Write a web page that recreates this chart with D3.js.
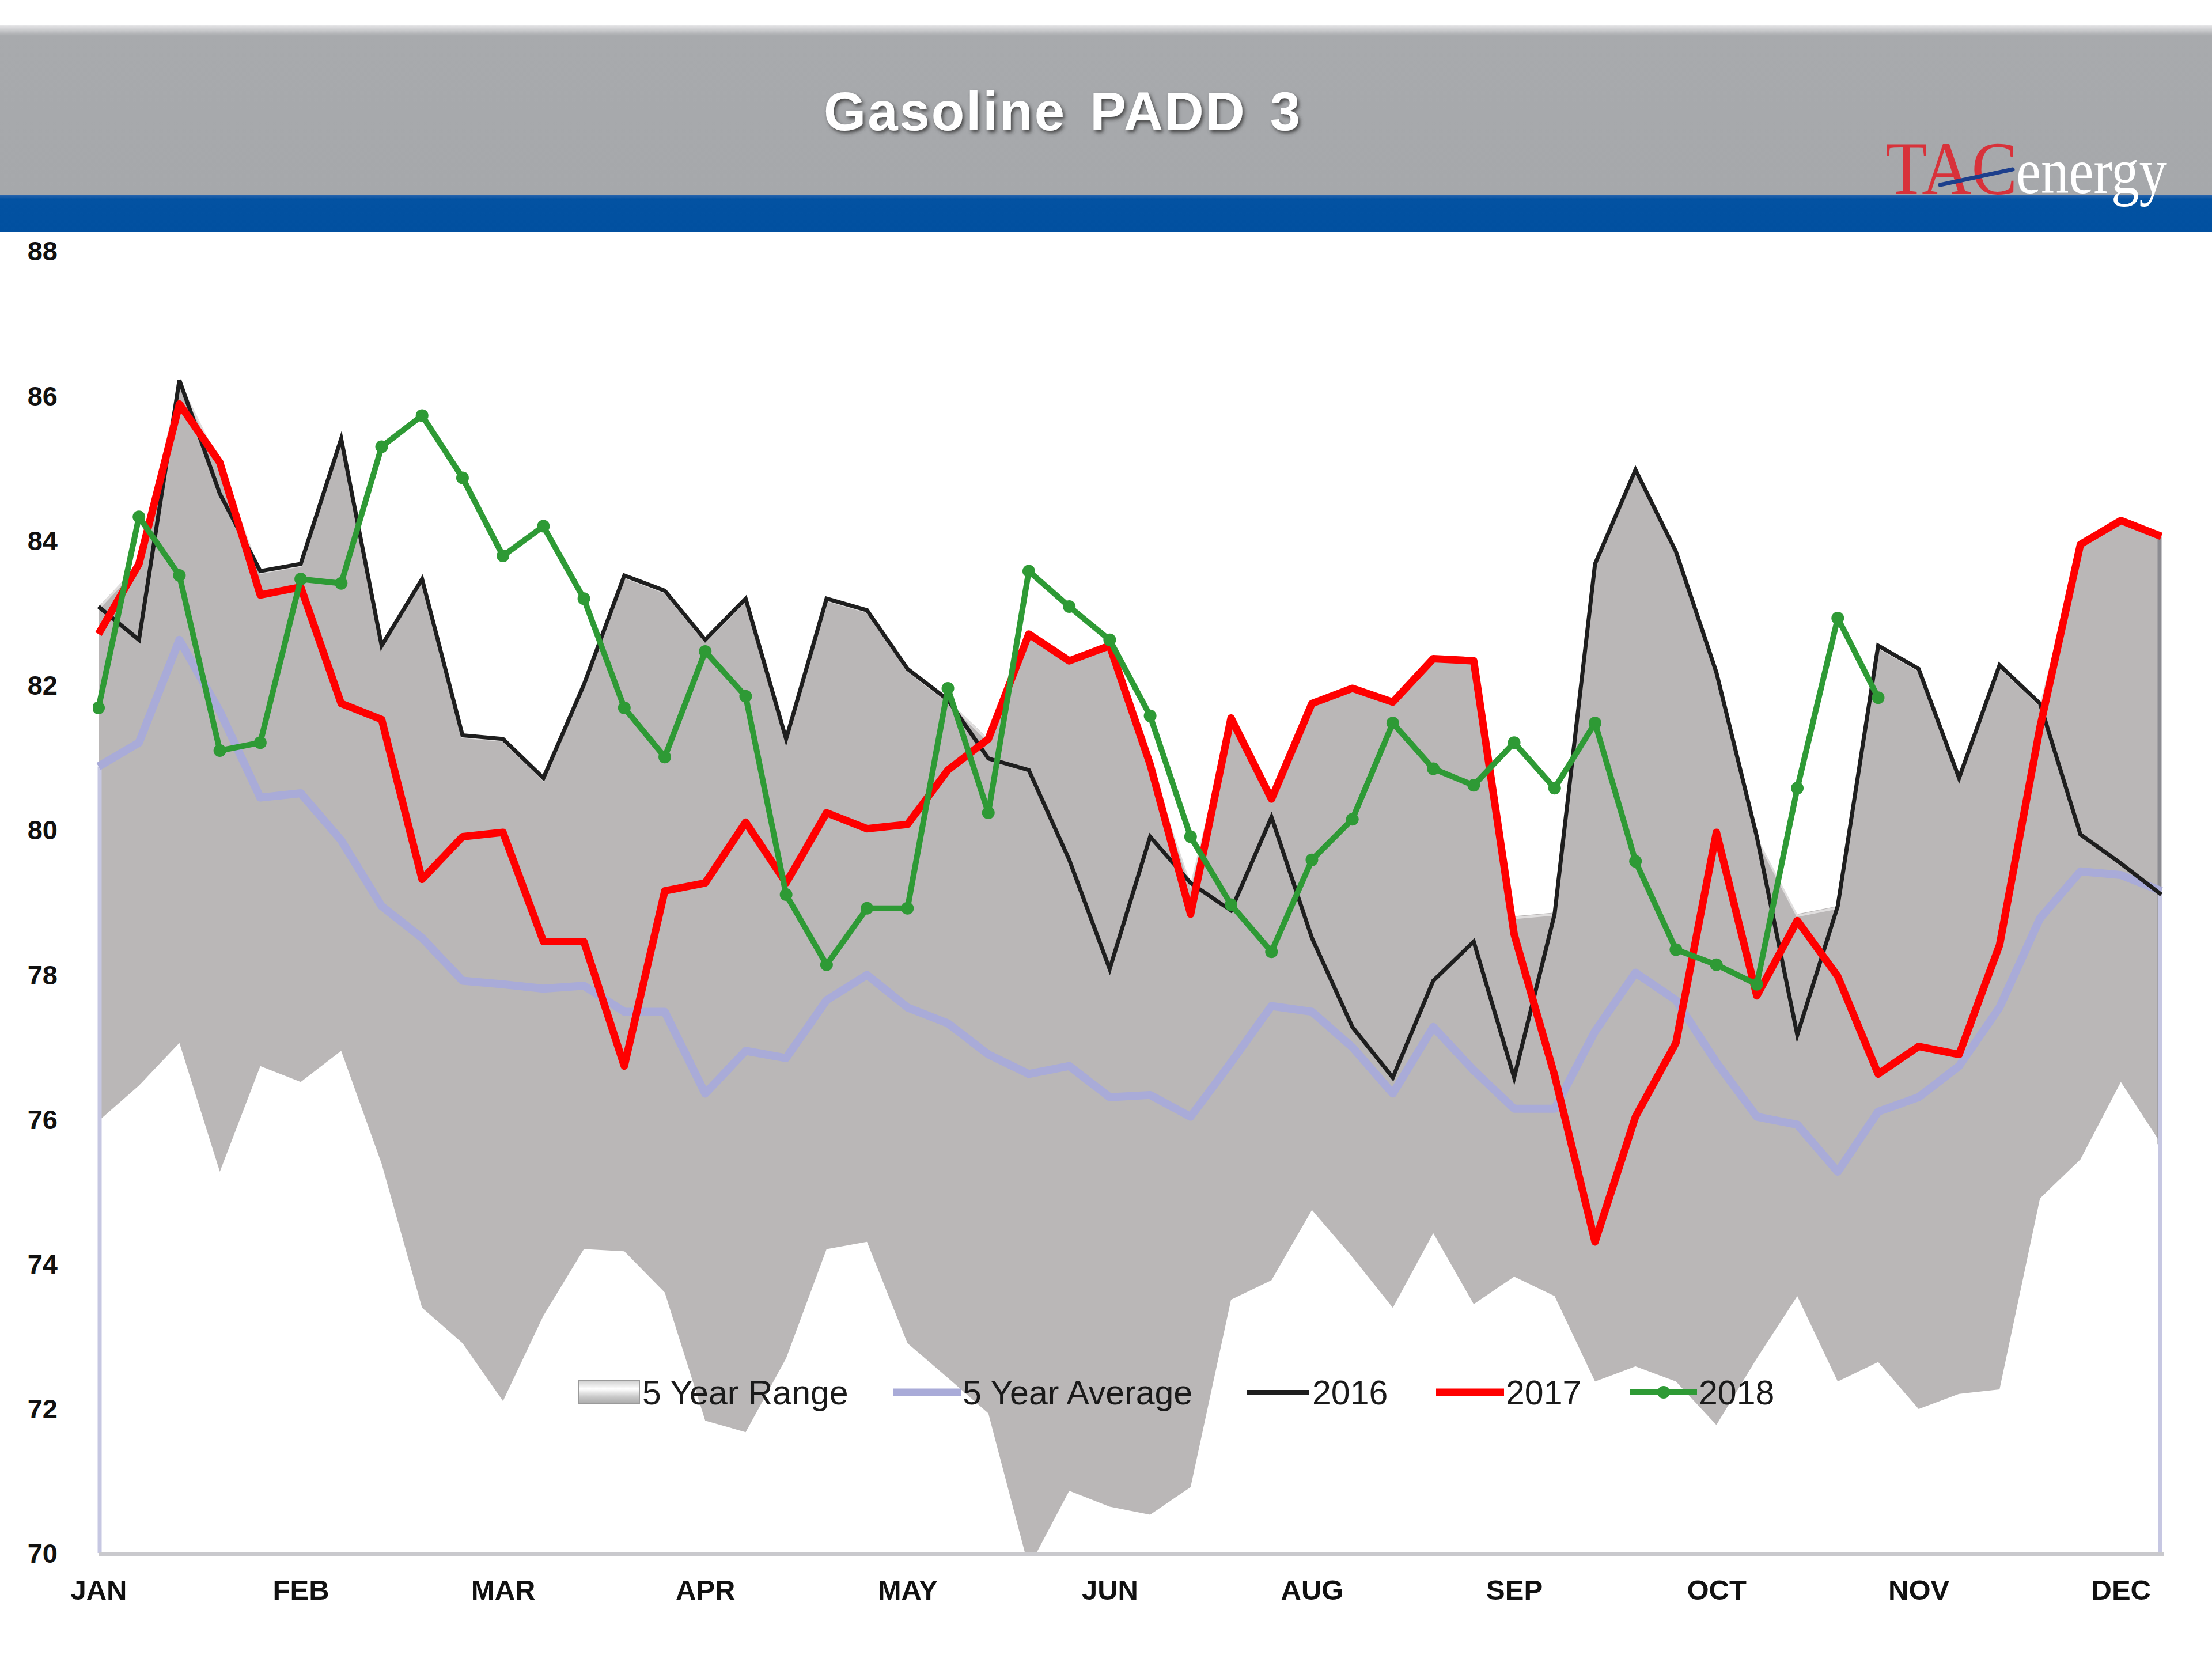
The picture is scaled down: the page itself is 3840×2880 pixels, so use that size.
<!DOCTYPE html>
<html><head><meta charset="utf-8">
<script src="https://cdn.jsdelivr.net/npm/d3@7"></script>
<style>
html,body{margin:0;padding:0;background:#fff;}
svg{display:block;}
</style></head><body>
<svg id="chart" width="3840" height="2880"></svg>
<script>
// ---- data ----
const weekIndex = [0,1,2,3,4,5,6,7,8,9,10,11,12,13,14,15,16,17,18,19,20,21,22,23,24,25,26,27,28,29,30,31,32,33,34,35,36,37,38,39,40,41,42,43,44,45,46,47,48,49,50,51];
const monthTickWeeks = [0,5,10,15,20,25,30,35,40,45,50];
const monthLabels = ["JAN","FEB","MAR","APR","MAY","JUN","AUG","SEP","OCT","NOV","DEC"];
const yTicks = [70,72,74,76,78,80,82,84,86,88];

const rangeLow = [75.97,76.46,77.05,75.27,76.73,76.51,76.94,75.38,73.39,72.9,
  72.1,73.28,74.2,74.17,73.6,71.83,71.67,72.69,74.2,74.3,
  72.9,72.42,71.93,69.8,70.86,70.64,70.53,70.91,73.5,73.77,
  74.74,74.09,73.39,74.42,73.44,73.82,73.55,72.37,72.58,72.37,
  71.77,72.69,73.55,72.37,72.64,71.99,72.2,72.26,74.9,75.44,
  76.51,75.65];
const rangeHigh = [83.08,83.67,86.21,85.07,83.57,83.67,85.4,82.54,83.46,81.3,
  81.25,80.71,82.0,83.51,83.3,82.62,83.19,81.25,83.19,83.03,
  82.22,81.79,81.25,82.7,82.33,82.54,80.9,79.26,81.54,80.42,
  81.74,81.95,81.76,82.36,82.33,78.8,78.85,83.67,84.97,83.84,
  82.17,79.9,78.83,78.94,82.54,82.22,80.71,82.27,81.74,83.94,
  84.27,84.05];
const avg5 = [80.87,81.2,82.62,81.63,80.44,80.5,79.85,78.94,78.5,77.91,
  77.86,77.8,77.84,77.48,77.48,76.35,76.94,76.84,77.64,77.99,
  77.54,77.32,76.89,76.62,76.73,76.3,76.33,76.03,76.78,77.56,
  77.48,76.99,76.35,77.27,76.67,76.14,76.14,77.21,78.02,77.64,
  76.78,76.03,75.92,75.27,76.1,76.3,76.73,77.54,78.77,79.42,
  79.37,79.15];
const y2016 = [83.08,82.62,86.21,84.64,83.57,83.67,85.4,82.54,83.46,81.3,
  81.25,80.71,82.0,83.51,83.3,82.62,83.19,81.25,83.19,83.03,
  82.22,81.79,80.98,80.82,79.58,78.07,79.9,79.26,78.88,80.17,
  78.5,77.27,76.57,77.91,78.45,76.57,78.83,83.67,84.97,83.84,
  82.17,79.9,77.16,78.94,82.54,82.22,80.71,82.27,81.74,79.93,
  79.53,79.1];
const y2017 = [82.7,83.67,85.88,85.07,83.24,83.35,81.74,81.52,79.31,79.9,
  79.96,78.45,78.45,76.73,79.15,79.26,80.1,79.26,80.23,80.01,
  80.07,80.82,81.25,82.7,82.33,82.54,80.9,78.83,81.54,80.42,
  81.74,81.95,81.76,82.36,82.33,78.55,76.6,74.3,76.03,77.05,
  79.96,77.7,78.74,77.97,76.62,77.0,76.89,78.4,81.41,83.94,
  84.27,84.05];
const y2018 = [81.68,84.32,83.51,81.09,81.2,83.46,83.4,85.29,85.72,84.86,
  83.78,84.19,83.19,81.68,81.0,82.46,81.84,79.1,78.13,78.91,
  78.91,81.95,80.23,83.57,83.08,82.62,81.57,79.9,78.96,78.31,
  79.58,80.14,81.47,80.84,80.61,81.2,80.57,81.47,79.56,78.34,
  78.13,77.86,80.57,82.92,81.82];

const titleText = "Gasoline PADD 3";
const legendLabels = ["5 Year Range","5 Year Average","2016","2017","2018"];

// ---- layout ----
const svg = d3.select("#chart");
const X0 = 171, X1 = 3752, YTOP = 435, YBOT = 2696;
const x = d3.scaleLinear().domain([0, 51]).range([X0, X1]);
const y = d3.scaleLinear().domain([70, 88]).range([YBOT, YTOP]);

const defs = svg.append("defs");
const hg = defs.append("linearGradient").attr("id","hdr").attr("x1",0).attr("y1",0).attr("x2",0).attr("y2",1);
hg.append("stop").attr("offset","0").attr("stop-color","#e6e6e8");
hg.append("stop").attr("offset","0.06").attr("stop-color","#a8aaad");
hg.append("stop").attr("offset","1").attr("stop-color","#a6a8ab");
const bg = defs.append("linearGradient").attr("id","blu").attr("x1",0).attr("y1",0).attr("x2",0).attr("y2",1);
bg.append("stop").attr("offset","0").attr("stop-color","#2d66ad");
bg.append("stop").attr("offset","0.12").attr("stop-color","#0352a2");
bg.append("stop").attr("offset","1").attr("stop-color","#0150a0");
const sw = defs.append("linearGradient").attr("id","swatch").attr("x1",0).attr("y1",0).attr("x2",0).attr("y2",1);
sw.append("stop").attr("offset","0").attr("stop-color","#cfcfcf");
sw.append("stop").attr("offset","0.35").attr("stop-color","#ffffff");
sw.append("stop").attr("offset","0.7").attr("stop-color","#c9c9c9");
sw.append("stop").attr("offset","1").attr("stop-color","#a9a9a9");
const shadow = defs.append("filter").attr("id","tshadow").attr("x","-10%").attr("y","-30%").attr("width","120%").attr("height","160%");
shadow.append("feDropShadow").attr("dx",3).attr("dy",4).attr("stdDeviation",3).attr("flood-color","#3a3a3a").attr("flood-opacity",0.9);
defs.append("clipPath").attr("id","plotclip").append("rect")
  .attr("x", X0 - 10).attr("y", YTOP - 40).attr("width", X1 - X0 + 20).attr("height", YBOT - YTOP + 40);

// header
svg.append("rect").attr("x",0).attr("y",44).attr("width",3840).attr("height",296).attr("fill","url(#hdr)");
svg.append("rect").attr("x",0).attr("y",338).attr("width",3840).attr("height",64).attr("fill","url(#blu)");
svg.append("text").attr("x",1845).attr("y",226).attr("text-anchor","middle")
  .attr("font-family","Liberation Sans, Arial, sans-serif").attr("font-weight","bold")
  .attr("font-size",94).attr("letter-spacing",3).attr("word-spacing",12)
  .attr("fill","#ffffff").attr("filter","url(#tshadow)").text(titleText);

// logo
const logo = svg.append("g");
logo.append("text").attr("x",3273).attr("y",337).attr("font-family","Liberation Serif, Times New Roman, serif")
  .attr("font-size",132).attr("fill","#d8323a").attr("textLength",229).attr("lengthAdjust","spacingAndGlyphs").text("TAC");
logo.append("text").attr("x",3500).attr("y",335).attr("font-family","Liberation Serif, Times New Roman, serif")
  .attr("font-size",112).attr("fill","#ffffff").attr("textLength",262).attr("lengthAdjust","spacingAndGlyphs").text("energy");
logo.append("line").attr("x1",3368).attr("y1",321).attr("x2",3494).attr("y2",294)
  .attr("stroke","#1d3f8c").attr("stroke-width",7).attr("stroke-linecap","round");

// plot
const plot = svg.append("g").attr("clip-path","url(#plotclip)");

const area = d3.area().x(i => x(i)).y0(i => y(rangeLow[i])).y1(i => y(rangeHigh[i]));
plot.append("path").datum(weekIndex).attr("d", area).attr("fill","#bab7b7");
// bevel highlight along top edge
plot.append("path").datum(weekIndex)
  .attr("d", d3.line().x(i => x(i)).y(i => y(rangeHigh[i]) + 3))
  .attr("fill","none").attr("stroke","#ffffff").attr("stroke-opacity",0.55).attr("stroke-width",4);
// darker right side
plot.append("line").attr("x1",X1-3).attr("x2",X1-3).attr("y1",y(rangeHigh[51])).attr("y2",y(rangeLow[51]))
  .attr("stroke","#8c8c92").attr("stroke-width",7);

// bottom axis line
svg.append("line").attr("x1",X0).attr("x2",X1+4).attr("y1",YBOT+2).attr("y2",YBOT+2)
  .attr("stroke","#c9c9cd").attr("stroke-width",8);

// 5 year average: drop lines at both ends, then the main line
plot.append("line").attr("x1",x(0)+2).attr("x2",x(0)+2).attr("y1",y(avg5[0])).attr("y2",YBOT)
  .attr("stroke","#c6c7e2").attr("stroke-width",7);
plot.append("line").attr("x1",x(51)-2).attr("x2",x(51)-2).attr("y1",y(avg5[51])).attr("y2",YBOT)
  .attr("stroke","#c6c7e2").attr("stroke-width",7);
plot.append("path").datum(weekIndex).attr("d", d3.line().x(i => x(i)).y(i => y(avg5[i])))
  .attr("fill","none").attr("stroke","#a9abd8").attr("stroke-width",14).attr("stroke-linejoin","round");

const line = arr => d3.line().x(i => x(i)).y(i => y(arr[i]));
plot.append("path").datum(weekIndex).attr("d", line(y2016)).attr("fill","none")
  .attr("stroke","#1e1e1e").attr("stroke-width",7).attr("stroke-linejoin","miter");
plot.append("path").datum(weekIndex).attr("d", line(y2017)).attr("fill","none")
  .attr("stroke","#ff0000").attr("stroke-width",13).attr("stroke-linejoin","round");
const idx18 = weekIndex.slice(0, y2018.length);
plot.append("path").datum(idx18).attr("d", line(y2018)).attr("fill","none")
  .attr("stroke","#2e9a35").attr("stroke-width",10).attr("stroke-linejoin","round");
plot.selectAll("circle.m18").data(idx18).enter().append("circle").attr("class","m18")
  .attr("cx", i => x(i)).attr("cy", i => y(y2018[i])).attr("r",11).attr("fill","#2e9a35");

// axes
const yAxis = svg.append("g").attr("transform","translate(100,0)")
  .call(d3.axisLeft(y).tickValues(yTicks).tickSize(0).tickPadding(0).tickFormat(d3.format("d")));
yAxis.select(".domain").remove();
yAxis.selectAll("text").attr("font-family","Liberation Sans, Arial, sans-serif").attr("font-weight","bold")
  .attr("font-size",47).attr("fill","#111").attr("dy","0.36em").attr("text-anchor","end");

const xAxis = svg.append("g").attr("transform",`translate(0,${YBOT})`)
  .call(d3.axisBottom(x).tickValues(monthTickWeeks).tickSize(0).tickPadding(0)
    .tickFormat((d, k) => monthLabels[k]));
xAxis.select(".domain").remove();
xAxis.selectAll("text").attr("font-family","Liberation Sans, Arial, sans-serif").attr("font-weight","bold")
  .attr("font-size",49).attr("fill","#111").attr("dy",0).attr("y",81);

// legend
const lg = svg.append("g").attr("font-family","Liberation Sans, Arial, sans-serif").attr("font-size",59).attr("fill","#1a1a1a");
const LY = 2417;
lg.append("rect").attr("x",1004).attr("y",LY-20).attr("width",106).attr("height",40)
  .attr("fill","url(#swatch)").attr("stroke","#9a9a9a").attr("stroke-width",2);
lg.append("line").attr("x1",1550).attr("x2",1668).attr("y1",LY).attr("y2",LY).attr("stroke","#a9abd8").attr("stroke-width",13);
lg.append("line").attr("x1",2165).attr("x2",2273).attr("y1",LY).attr("y2",LY).attr("stroke","#1e1e1e").attr("stroke-width",8);
lg.append("line").attr("x1",2493).attr("x2",2611).attr("y1",LY).attr("y2",LY).attr("stroke","#ff0000").attr("stroke-width",13);
lg.append("line").attr("x1",2829).attr("x2",2946).attr("y1",LY).attr("y2",LY).attr("stroke","#2e9a35").attr("stroke-width",10);
lg.append("circle").attr("cx",2888).attr("cy",LY).attr("r",11).attr("fill","#2e9a35");
const legX = [1115,1671,2278,2614,2949];
legendLabels.forEach((t, k) => {
  lg.append("text").attr("x",legX[k]).attr("y",LY).attr("dy","0.36em").text(t);
});
</script>
</body></html>
